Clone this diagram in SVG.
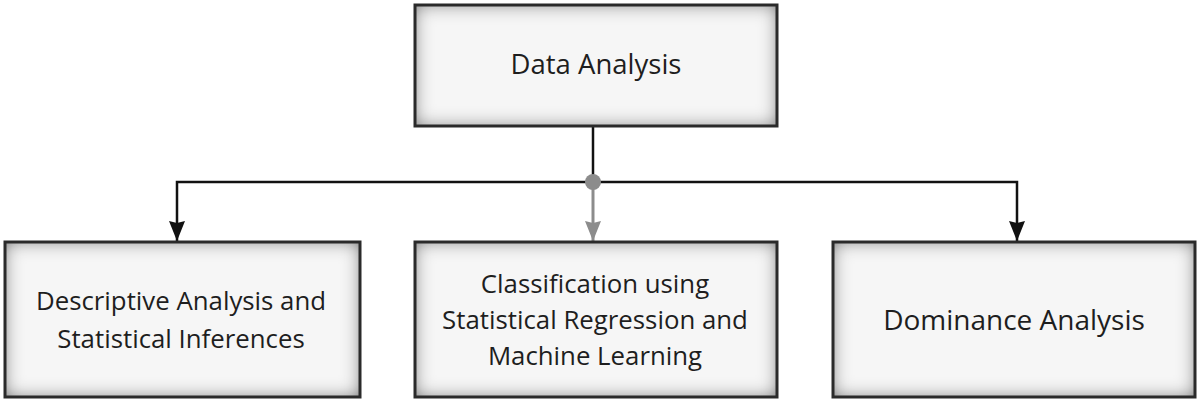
<svg xmlns="http://www.w3.org/2000/svg" width="1200" height="404" viewBox="0 0 1200 404">
<defs>
<filter id="inner" x="-0.1" y="-0.1" width="1.2" height="1.2">
<feFlood flood-color="#404040" result="f"/>
<feComposite in="f" in2="SourceAlpha" operator="out" result="o"/>
<feGaussianBlur in="o" stdDeviation="9" result="b"/>
<feComposite in="b" in2="SourceAlpha" operator="in" result="i"/>
<feMerge><feMergeNode in="SourceGraphic"/><feMergeNode in="i"/></feMerge>
</filter>
<marker id="ah" viewBox="0 0 20 16" refX="20" refY="8" markerWidth="20" markerHeight="16" markerUnits="userSpaceOnUse" orient="auto">
<path d="M0,0 L20,8 L0,16 L2,8 Z" fill="#111"/>
</marker>
<marker id="ahg" viewBox="0 0 20 16" refX="20" refY="8" markerWidth="20" markerHeight="16" markerUnits="userSpaceOnUse" orient="auto">
<path d="M0,0 L20,8 L0,16 L2,8 Z" fill="#8c8c8c"/>
</marker>
</defs>
<style>
.bg{fill:#f6f6f6;filter:url(#inner)}
.bd{fill:none;stroke:#2a2a2a;stroke-width:3}
.t{font-family:"Open Sans","Noto Sans",sans-serif;fill:#1e1e1e;text-anchor:middle}
.ln{fill:none;stroke:#111;stroke-width:2.5}
</style>
<rect width="1200" height="404" fill="#ffffff"/>
<g id="connectors">
<path class="ln" d="M593,126 V182"/>
<path class="ln" d="M593,182 H177 V241" marker-end="url(#ah)"/>
<path class="ln" d="M593,182 H1017 V241" marker-end="url(#ah)"/>
<path d="M593,188 V241" fill="none" stroke="#8c8c8c" stroke-width="3" marker-end="url(#ahg)"/>
<circle cx="593" cy="182" r="8" fill="#8c8c8c"/>
</g>
<g id="node-data-analysis">
<rect class="bg" x="415" y="5" width="362" height="121"/>
<rect class="bd" x="415" y="5" width="362" height="121"/>
<text class="t" x="596" y="74" font-size="27.5">Data Analysis</text>
</g>
<g id="node-descriptive">
<rect class="bg" x="5" y="242" width="355" height="155"/>
<rect class="bd" x="5" y="242" width="355" height="155"/>
<text class="t" x="181" y="310" font-size="25.8">Descriptive Analysis and</text>
<text class="t" x="181" y="348" font-size="25.8">Statistical Inferences</text>
</g>
<g id="node-classification">
<rect class="bg" x="415" y="242" width="362" height="155"/>
<rect class="bd" x="415" y="242" width="362" height="155"/>
<text class="t" x="595" y="293" font-size="25.8">Classification using</text>
<text class="t" x="595" y="329" font-size="25.8">Statistical Regression and</text>
<text class="t" x="595" y="365" font-size="25.8">Machine Learning</text>
</g>
<g id="node-dominance">
<rect class="bg" x="833" y="242" width="362" height="155"/>
<rect class="bd" x="833" y="242" width="362" height="155"/>
<text class="t" x="1014" y="330" font-size="28">Dominance Analysis</text>
</g>
</svg>
